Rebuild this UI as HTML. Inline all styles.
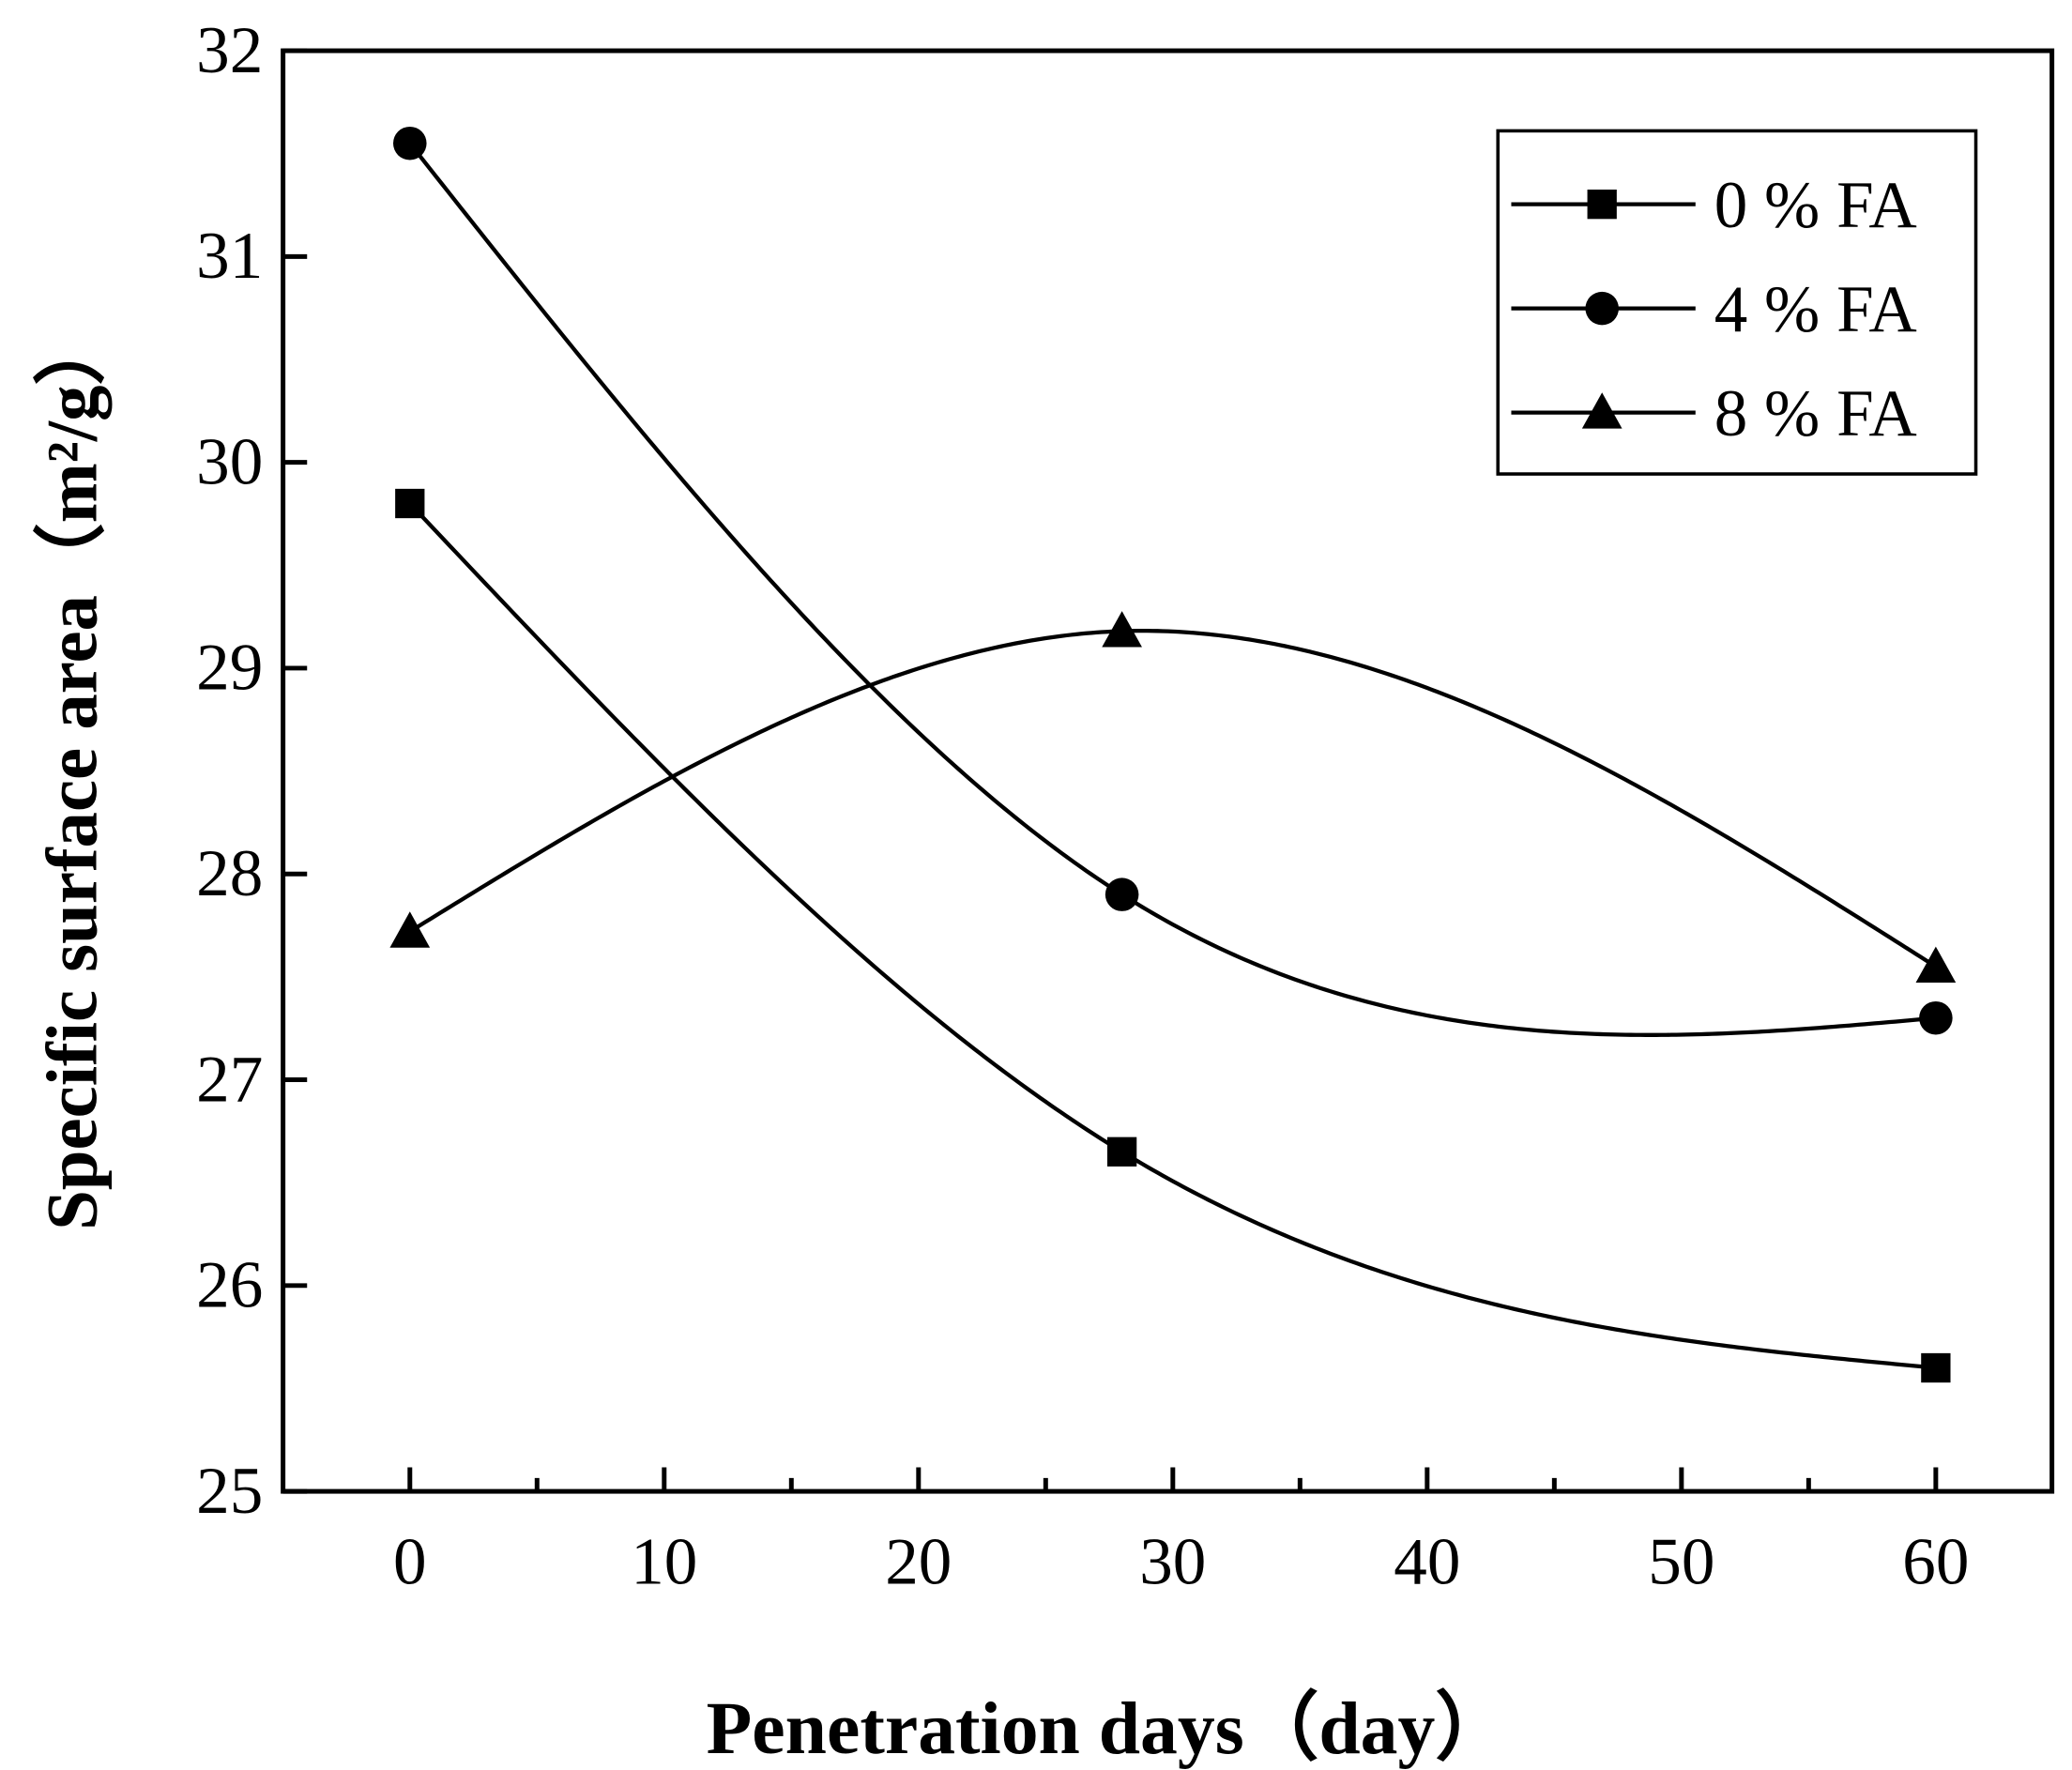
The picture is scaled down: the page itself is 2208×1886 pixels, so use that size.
<!DOCTYPE html>
<html><head><meta charset="utf-8"><style>html,body{margin:0;padding:0;background:#fff}svg{display:block}</style></head>
<body>
<svg id="chart" width="2208" height="1886" viewBox="0 0 1552 1325.7" xmlns="http://www.w3.org/2000/svg" font-family="'Liberation Serif', serif">
<rect x="0" y="0" width="1552" height="1326" fill="#fff"/>
<g id="ticks"></g>
<g id="series"></g>
<rect x="212" y="38" width="1325" height="1079" fill="none" stroke="#000" stroke-width="3.5"/>
<text x="830" y="1313" text-anchor="middle" font-size="56" font-weight="bold">Penetration days（day）</text>
<text transform="translate(72,578) rotate(-90)" text-anchor="middle" font-size="54" font-weight="bold">Specific surface area（m²/g）</text>
<g>
<rect x="1122" y="98" width="358" height="257" fill="#fff" stroke="#000" stroke-width="2.5"/>
<g id="legend-items"></g>
</g>
</svg>
<script>
const xTicks=[0,10,20,30,40,50,60];
const yTicks=[25,26,27,28,29,30,31,32];
const days=[0,28,60];
const fa0=[29.8,26.65,25.6];
const fa4=[31.55,27.9,27.3];
const fa8=[27.72,29.18,27.55];
const seriesNames=['0 % FA','4 % FA','8 % FA'];
const markers=['square','circle','triangle'];
const NS='http://www.w3.org/2000/svg';
const X=v=>307+(v-0)*(1450-307)/60;
const Y=v=>1117-(v-25)*(1117-38)/7;
function mk(tag,attrs,parent){const e=document.createElementNS(NS,tag);for(const k in attrs)e.setAttribute(k,attrs[k]);parent.appendChild(e);return e;}
const tg=document.getElementById('ticks');
xTicks.forEach(t=>{
 const l=mk('line',{x1:X(t),x2:X(t),y1:1117,y2:1099,stroke:'#000','stroke-width':3.5},tg);
 
 
 const tx=mk('text',{x:X(t),y:1186,'text-anchor':'middle','font-size':50},tg);tx.textContent=t;
 
 
});
for(let i=0;i<xTicks.length-1;i++){
 const m=(xTicks[i]+xTicks[i+1])/2;
 const l=mk('line',{x1:X(m),x2:X(m),y1:1117,y2:1107,stroke:'#000','stroke-width':3.5},tg);
 
 
}
yTicks.forEach(t=>{
 const l=mk('line',{x1:212,x2:230,y1:Y(t),y2:Y(t),stroke:'#000','stroke-width':3.5},tg);
 
 
 const tx=mk('text',{x:197,y:Y(t)+16,'text-anchor':'end','font-size':50},tg);tx.textContent=t;
 
 
});
function spline(xs,ys){
 const n=xs.length,h=[],a=[],l=[1],mu=[0],z=[0],c=new Array(n).fill(0),b=[],d=[];
 for(let i=0;i<n-1;i++)h.push(xs[i+1]-xs[i]);
 for(let i=1;i<n-1;i++)a[i]=3/h[i]*(ys[i+1]-ys[i])-3/h[i-1]*(ys[i]-ys[i-1]);
 for(let i=1;i<n-1;i++){l[i]=2*(xs[i+1]-xs[i-1])-h[i-1]*mu[i-1];mu[i]=h[i]/l[i];z[i]=(a[i]-h[i-1]*z[i-1])/l[i];}
 for(let j=n-2;j>=0;j--){c[j]=j>0?z[j]-mu[j]*c[j+1]:0;b[j]=(ys[j+1]-ys[j])/h[j]-h[j]*(c[j+1]+2*c[j])/3;d[j]=(c[j+1]-c[j])/(3*h[j]);}
 return x=>{let i=0;while(i<n-2&&x>xs[i+1])i++;const dx=x-xs[i];return ys[i]+b[i]*dx+c[i]*dx*dx+d[i]*dx*dx*dx;};
}
function marker(type,cx,cy,g){
 let e;
 if(type==='square')e=mk('rect',{x:cx-11,y:cy-11,width:22,height:22,fill:'#000'},g);
 else if(type==='circle')e=mk('circle',{cx:cx,cy:cy,r:12.5,fill:'#000'},g);
 else e=mk('polygon',{points:`${cx},${cy-15} ${cx+15},${cy+12} ${cx-15},${cy+12}`,fill:'#000'},g);
 return e;
}
const sg=document.getElementById('series');
[fa0,fa4,fa8].forEach((vals,k)=>{
 const f=spline(days,vals);let d='';
 for(let s=0;s<=300;s++){const x=days[0]+(days[days.length-1]-days[0])*s/300;d+=(s?'L':'M')+X(x).toFixed(2)+','+Y(f(x)).toFixed(2);}
 const p=mk('path',{d:d,fill:'none',stroke:'#000','stroke-width':3},sg);
 
 
 vals.forEach((v,i)=>{const m=marker(markers[k],X(days[i]),Y(v),sg);
  
  });
});
const lg=document.getElementById('legend-items');
seriesNames.forEach((nm,k)=>{
 const y=153+k*78;
 const l=mk('line',{x1:1132,x2:1270,y1:y,y2:y,stroke:'#000','stroke-width':3},lg);
 
 
 const m=marker(markers[k],1200,y,lg);
 
 
 const t=mk('text',{x:1284,y:y+17,'font-size':50},lg);t.textContent=nm;
 
 
});
</script>
</body></html>
